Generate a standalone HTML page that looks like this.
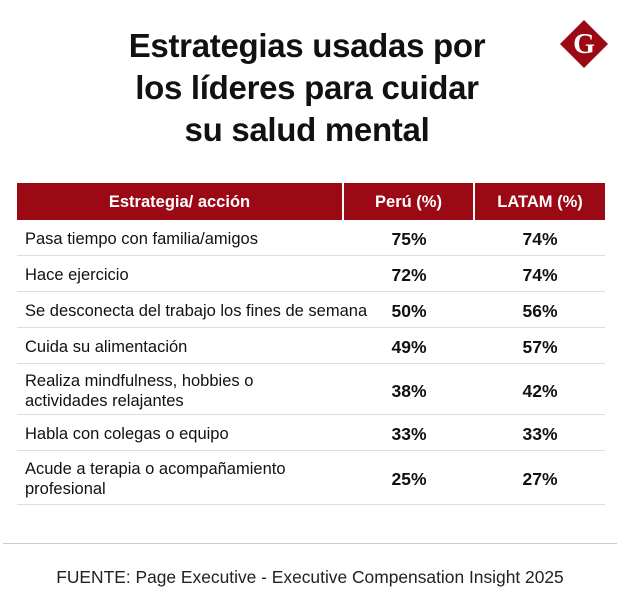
<!DOCTYPE html>
<html><head><meta charset="utf-8"><style>
body{margin:0;width:620px;height:616px;background:#fff;font-family:"Liberation Sans",sans-serif;position:relative;overflow:hidden}
.title{position:absolute;left:0;width:614px;top:25px;text-align:center;font-weight:bold;font-size:33px;line-height:42px;color:#111;letter-spacing:-0.3px}
.logo{position:absolute;left:567px;top:27px;width:34px;height:34px;background:#9b0a14;transform:rotate(45deg)}
.logoG{position:absolute;left:564px;top:25px;width:40px;height:40px;line-height:40px;text-align:center;color:#fff;font-family:"Liberation Serif",serif;font-weight:bold;font-size:28px}
.hdr{position:absolute;top:183px;height:37px;background:#9b0a14;color:#fff;font-weight:bold;font-size:16.5px;line-height:39px;text-align:center}
.row{position:absolute;left:17px;width:588px;border-bottom:1px solid #ddd}
.row .l{position:absolute;left:8px;font-size:16.5px;color:#111;line-height:20px}
.row .v{position:absolute;width:130px;text-align:center;font-weight:bold;font-size:17.5px;color:#111}
.foot{position:absolute;left:0;width:620px;top:567px;text-align:center;font-size:17.4px;color:#222}
.sep{position:absolute;left:3px;width:614px;top:543px;border-top:1px solid #ccc}
</style></head><body>
<div class="title">Estrategias usadas por<br>los líderes para cuidar<br>su salud mental</div>
<div class="logo"></div>
<div class="logoG">G</div>
<div class="hdr" style="left:17px;width:325px">Estrategia/ acción</div>
<div class="hdr" style="left:344px;width:129px">Perú (%)</div>
<div class="hdr" style="left:475px;width:130px">LATAM (%)</div>
<div id="rows"></div>
<div class="sep"></div>
<div class="foot">FUENTE: Page Executive - Executive Compensation Insight 2025</div>
<script>
const labels=["Pasa tiempo con familia/amigos","Hace ejercicio","Se desconecta del trabajo los fines de semana","Cuida su alimentación","Realiza mindfulness, hobbies o<br>actividades relajantes","Habla con colegas o equipo","Acude a terapia o acompañamiento<br>profesional"];
const peru=[75,72,50,49,38,33,25];
const latam=[74,74,56,57,42,33,27];
const heights=[36,36,36,36,51,36,54];
let y=220;
const c=document.getElementById('rows');
labels.forEach((t,i)=>{
 const h=heights[i];
 const r=document.createElement('div');
 r.className='row';
 
 
 r.style.top=y+'px';r.style.height=(h-1)+'px';
 const two=t.includes('<br>');
 const vt=(h/2-9)+'px';
 r.innerHTML='<div class="l" style="top:'+(two?(h/2-19):(h/2-9))+'px">'+t+'</div>'+
 '<div class="v" style="left:327px;top:'+vt+'">'+peru[i]+'%</div>'+
 '<div class="v" style="left:458px;top:'+vt+'">'+latam[i]+'%</div>';
 c.appendChild(r);
 y+=h;
});
</script>
</body></html>
